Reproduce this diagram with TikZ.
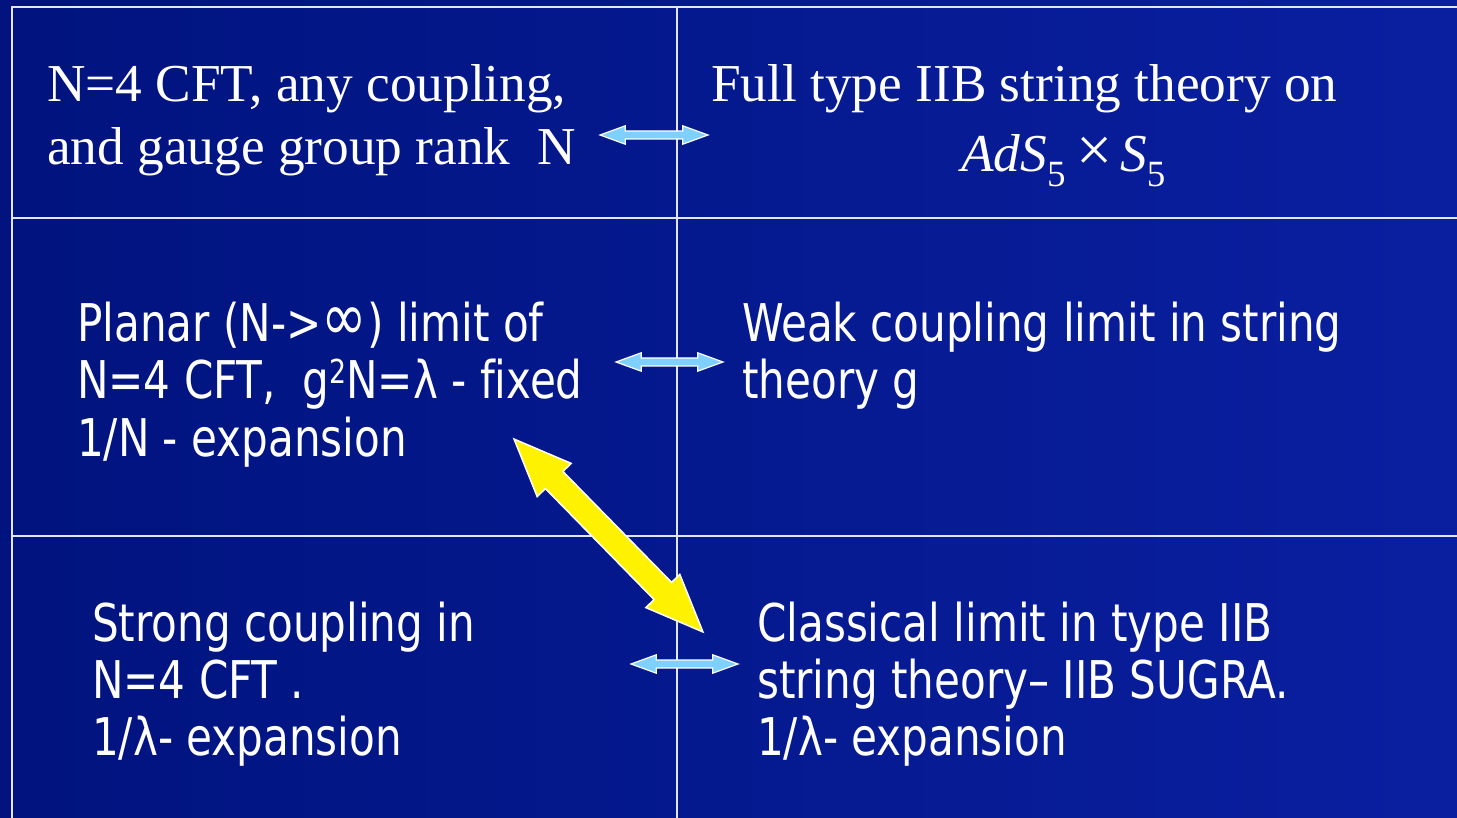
\documentclass[tikz,border=0pt]{standalone}
\usepackage{fontspec}
\setmainfont{Liberation Serif}
\newfontfamily\tah[FakeStretch=0.9, Ligatures=NoCommon]{DejaVu Sans Condensed}
\usetikzlibrary{shapes.arrows}
\definecolor{bgL}{RGB}{0,19,126}
\definecolor{bgR}{RGB}{10,31,160}
\definecolor{gridc}{RGB}{228,228,255}
\definecolor{skyarrow}{RGB}{125,208,255}
\newcommand{\supTwo}{\raisebox{0.3em}{\fontsize{33}{33}\selectfont 2}}
\newcommand{\bigInf}{\raisebox{0.02em}{\scalebox{1.3}{∞}}}
\newcommand{\subFive}{\raisebox{-0.28em}{\upshape\fontsize{37}{37}\selectfont 5}}
\tikzset{
  serifline/.style={anchor=base west, inner sep=0pt, text=white, font=\fontsize{53.3}{62}\selectfont},
  sansline/.style={anchor=base west, inner sep=0pt, text=white, font=\tah\fontsize{52}{57}\selectfont},
  gridline/.style={draw=gridc, line width=1.6pt},
  bluearrow/.style={double arrow, draw=white, line width=1.2pt, fill=skyarrow,
    inner xsep=0pt, inner ysep=3.4pt, double arrow head extend=5.2pt, double arrow tip angle=40},
  yellowarrow/.style={double arrow, draw=white, line width=1.5pt, fill=yellow,
    inner xsep=0pt, inner ysep=11.5pt, double arrow head extend=11.5pt, double arrow tip angle=45},
}
\begin{document}
\begin{tikzpicture}[x=1pt,y=-1pt]
\useasboundingbox (0,0) rectangle (1457,818);
\shade[left color=bgL, right color=bgR] (0,0) rectangle (1457,818);
% grid
\draw[gridline] (1457,7) -- (12,7) -- (12,818);
\draw[gridline] (12,218) -- (1457,218);
\draw[gridline] (12,536) -- (1457,536);
\draw[gridline] (677,7) -- (677,818);
% row 1
\node[serifline] (l1a) at (47,102) {N=4 CFT, any coupling,};
\node[serifline] (l1b) at (47,165) {and gauge group rank \ N};
\node[serifline] (r1a) at (711,102) {Full type IIB string theory on};
\node[serifline] (r1b) at (961,172) {\itshape AdS\subFive\hspace{0.2em}{\upshape\fontsize{64}{64}\selectfont ×}\hspace{0.15em}\itshape S\subFive};
% row 2
\node[sansline] (l2a) at (77,342) {Planar (N->\bigInf) limit of};
\node[sansline] (l2b) at (77,399) {N=4 CFT, \ g\supTwo N=λ - fixed};
\node[sansline] (l2c) at (77,456) {1/N - expansion};
\node[sansline] (r2a) at (742,342) {Weak coupling limit in string};
\node[sansline] (r2b) at (742,399) {theory g};
% row 3
\node[sansline] (l3a) at (92,641) {Strong coupling in};
\node[sansline] (l3b) at (92,698) {N=4 CFT .};
\node[sansline] (l3c) at (92,755) {1/λ- expansion};
\node[sansline] (r3a) at (757,641) {Classical limit in type IIB};
\node[sansline] (r3b) at (757,698) {string theory– IIB SUGRA.};
\node[sansline] (r3c) at (757,755) {1/λ- expansion};
% arrows
\node[bluearrow, minimum height=108pt] (a1) at (654,135) {};
\node[bluearrow, minimum height=107pt] (a2) at (669.5,362) {};
\node[bluearrow, minimum height=107pt] (a3) at (684.5,664) {};
\node[yellowarrow, minimum height=270pt, rotate=-45.6] (ay) at (608.5,535.5) {};
\end{tikzpicture}
\end{document}
